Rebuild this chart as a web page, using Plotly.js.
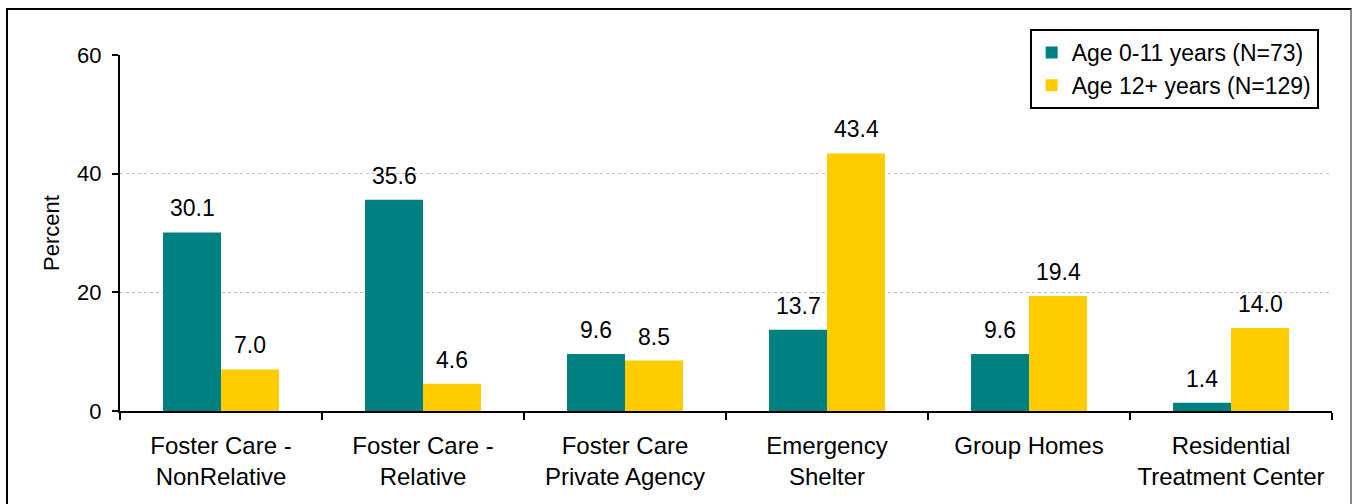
<!DOCTYPE html>
<html>
<head>
<meta charset="utf-8">
<script src="https://cdn.plot.ly/plotly-3.0.1.min.js"></script>
<style>
html,body{margin:0;padding:0;background:#fff;}
#wrap{position:relative;width:1357px;height:504px;}
#chart{width:1357px;height:504px;}
#frame{position:absolute;left:6px;top:8px;width:1346px;height:510px;border:2px solid #000;border-right-color:#888;pointer-events:none;box-sizing:border-box;}
</style>
</head>
<body>
<div id="wrap"><div id="chart"></div><div id="frame"></div></div>
<script>
const categories = ["Foster Care -<br>NonRelative","Foster Care -<br>Relative","Foster Care<br>Private Agency","Emergency<br>Shelter","Group Homes","Residential<br>Treatment Center"];
const seriesNames = ["Age 0-11 years (N=73)","Age 12+ years (N=129)"];
const young = [30.1, 35.6, 9.6, 13.7, 9.6, 1.4];
const older = [7.0, 4.6, 8.5, 43.4, 19.4, 14.0];
const yTicks = [0, 20, 40, 60];

const font = "Liberation Sans, Arial, sans-serif";
const colors = ["#008080", "#FFCC00"];

const traces = [young, older].map((vals, i) => ({
  type: "bar",
  name: seriesNames[i],
  x: categories,
  y: vals,
  marker: {color: colors[i]},
  hoverinfo: "skip"
}));

const annotations = [];
[young, older].forEach((vals, i) => {
  vals.forEach((v, j) => {
    annotations.push({
      x: categories[j], y: v, xref: "x", yref: "y",
      text: v.toFixed(1), showarrow: false,
      xshift: i === 0 ? -29 : 29, yshift: 9,
      yanchor: "bottom",
      font: {family: font, size: 23, color: "#000"}
    });
  });
});

const layout = {
  width: 1357, height: 504,
  margin: {l: 120, r: 25, t: 55, b: 93},
  paper_bgcolor: "#fff", plot_bgcolor: "#fff",
  barmode: "group", bargap: 0.426, bargroupgap: 0,
  showlegend: true,
  legend: {
    x: 0.989, xanchor: "right", y: 1.073, yanchor: "top",
    bordercolor: "#000", borderwidth: 2, bgcolor: "#fff",
    font: {family: font, size: 23, color: "#000"},
    tracegroupgap: 0, itemwidth: 30
  },
  xaxis: {
    type: "category",
    showline: true, linecolor: "#000", linewidth: 2,
    ticks: "outside", tickson: "boundaries", ticklen: 7, tickwidth: 2, tickcolor: "#000",
    tickfont: {family: font, size: 24, color: "#000"},
    ticklabelstandoff: 12,
    showgrid: false, zeroline: false, fixedrange: true
  },
  yaxis: {
    range: [0, 60], tickvals: yTicks, ticktext: yTicks.map(String),
    showline: true, linecolor: "#000", linewidth: 2,
    ticks: "outside", ticklen: 6, tickwidth: 2, tickcolor: "#000",
    tickfont: {family: font, size: 22, color: "#000"},
    ticklabelstandoff: 6,
    showgrid: true, gridcolor: "#bdbdbd", gridwidth: 1, griddash: "dot",
    zeroline: false,
    title: {text: "Percent", font: {family: font, size: 22, color: "#000"}, standoff: 11},
    fixedrange: true
  },
  annotations: annotations
};

Plotly.newPlot("chart", traces, layout, {displayModeBar: false, staticPlot: true});
</script>
</body>
</html>
